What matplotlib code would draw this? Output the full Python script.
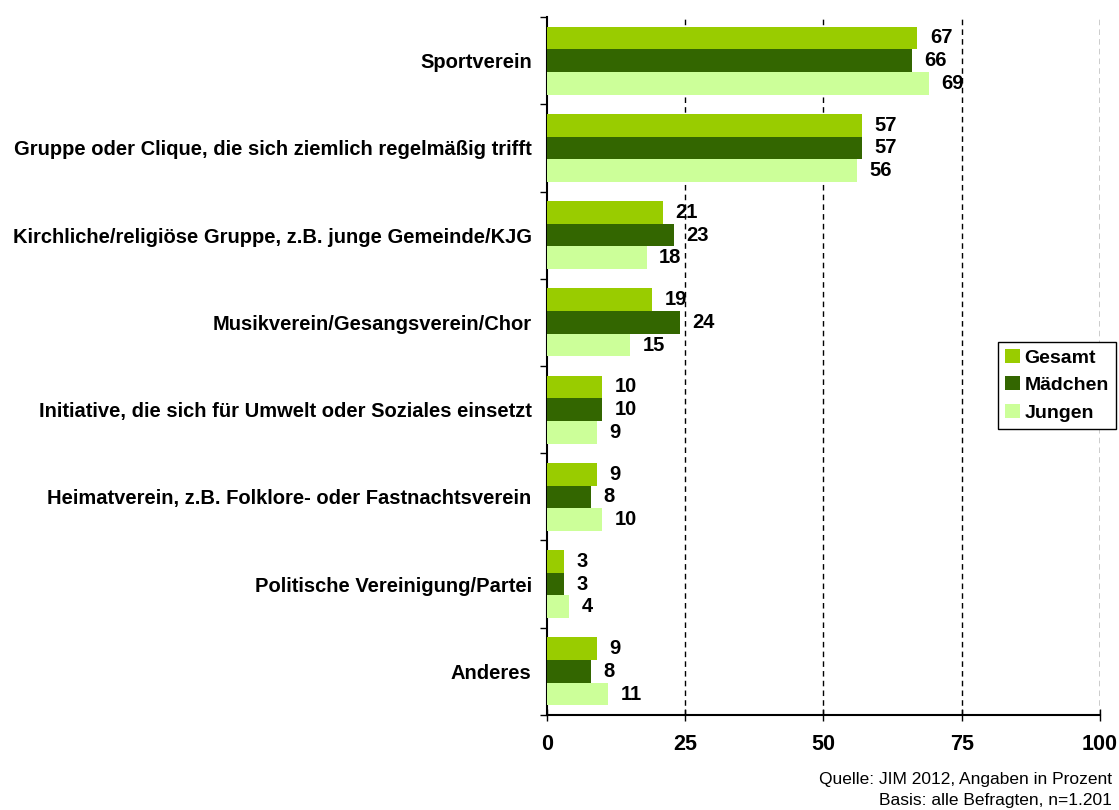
import matplotlib
matplotlib.use("Agg")
import matplotlib.pyplot as plt
import numpy as np

categories = [
    "Sportverein",
    "Gruppe oder Clique, die sich ziemlich regelmäßig trifft",
    "Kirchliche/religiöse Gruppe, z.B. junge Gemeinde/KJG",
    "Musikverein/Gesangsverein/Chor",
    "Initiative, die sich für Umwelt oder Soziales einsetzt",
    "Heimatverein, z.B. Folklore- oder Fastnachtsverein",
    "Politische Vereinigung/Partei",
    "Anderes",
]
gesamt = [67, 57, 21, 19, 10, 9, 3, 9]
maedchen = [66, 57, 23, 24, 10, 8, 3, 8]
jungen = [69, 56, 18, 15, 9, 10, 4, 11]
series_names = ["Gesamt", "Mädchen", "Jungen"]
series_colors = ["#99CC00", "#336600", "#CCFF99"]
x_ticks = [0, 25, 50, 75, 100]

plt.rcParams["font.family"] = ["Liberation Sans", "DejaVu Sans"]

fig = plt.figure(figsize=(11.19, 8.10), dpi=100)
ax = fig.add_axes([0.4888, 0.1173, 0.4942, 0.8617])

n = len(categories)
bar_h = 0.26
pos = np.arange(n)
for i, (name, vals, color) in enumerate(zip(series_names, [gesamt, maedchen, jungen], series_colors)):
    y = pos + (i - 1) * bar_h
    ax.barh(y, vals, height=bar_h, color=color, label=name, zorder=3)
    for yy, v in zip(y, vals):
        ax.annotate(str(v), (v, yy), xytext=(9, 0), textcoords="offset points",
                    ha="left", va="center", fontsize=14.5, fontweight="bold", zorder=4)

ax.set_ylim(n - 0.5, -0.5)
ax.set_xlim(0, 100)
ax.set_xticks(x_ticks)
ax.set_xticklabels([str(t) for t in x_ticks], fontsize=15.5, fontweight="bold")
ax.tick_params(axis="x", direction="inout", length=8, width=1, pad=10)

ax.set_yticks(pos)
ax.set_yticklabels(categories, fontsize=14.5, fontweight="bold")
ax.tick_params(axis="y", length=0, pad=11)
ax.set_yticks(np.arange(n + 1) - 0.5, minor=True)
ax.tick_params(axis="y", which="minor", direction="out", length=5, width=1)

for t in x_ticks[1:]:
    ax.axvline(t, color="black", linestyle=(0, (4, 3)), linewidth=1, zorder=1)

for side in ["top", "right"]:
    ax.spines[side].set_visible(False)
ax.spines["left"].set_linewidth(1.5)
ax.spines["bottom"].set_linewidth(1.5)

leg = fig.legend(loc="upper left", bbox_to_anchor=(0.892, 0.578), frameon=True,
                 fancybox=False, edgecolor="black", framealpha=1,
                 prop={"weight": "bold", "size": 14}, handlelength=0.75,
                 handleheight=0.75, handletextpad=0.25, labelspacing=0.5,
                 borderpad=0.35, borderaxespad=0)
leg.get_frame().set_linewidth(1)

fig.text(0.994, 0.038, "Quelle: JIM 2012, Angaben in Prozent", ha="right", va="center", fontsize=12.5)
fig.text(0.994, 0.012, "Basis: alle Befragten, n=1.201", ha="right", va="center", fontsize=12.5)

fig.savefig("out.png", dpi=100)
